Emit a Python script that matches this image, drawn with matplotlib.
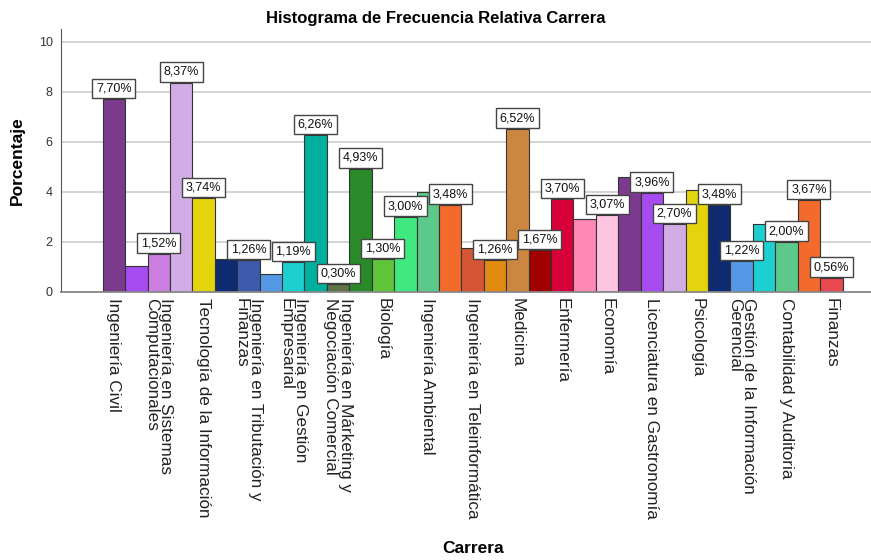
import matplotlib
matplotlib.use("Agg")
import matplotlib.pyplot as plt
import numpy as np

plt.rcParams['font.family'] = ['Liberation Sans', 'DejaVu Sans']

# porcentaje por carrera (33 barras, en el orden del grafico)
porcentajes = [7.70, 1.03, 1.52, 8.37, 3.74, 1.30, 1.26, 0.70, 1.19, 6.26, 0.30,
               4.93, 1.30, 3.00, 4.00, 3.48, 1.74, 1.26, 6.52, 1.67, 3.70, 2.91,
               3.07, 4.60, 3.96, 2.70, 4.07, 3.48, 1.22, 2.73, 2.00, 3.67, 0.56]

# etiquetas de datos que se ven en el original (las demas estan ocultas)
mostrar_etiqueta = [1, 0, 1, 1, 1, 0, 1, 0, 1, 1, 1,
                    1, 1, 1, 0, 1, 0, 1, 1, 1, 1, 0,
                    1, 0, 1, 1, 0, 1, 1, 0, 1, 1, 1]

# solo se muestra el nombre de una de cada dos barras
nombres_visibles = [
    "Ingeniería Civil",
    "Ingeniería en Sistemas\nComputacionales",
    "Tecnología de la Información",
    "Ingeniería en Tributación y\nFinanzas",
    "Ingeniería en Gestión\nEmpresarial",
    "Ingeniería en Márketing y\nNegociación Comercial",
    "Biología",
    "Ingeniería Ambiental",
    "Ingeniería en Teleinformática",
    "Medicina",
    "Enfermería",
    "Economía",
    "Licenciatura en Gastronomía",
    "Psicología",
    "Gestión de la Información\nGerencial",
    "Contabilidad y Auditoria",
    "Finanzas",
]

colores = ["#7B3A8E", "#A64BEF", "#CC7EE0", "#D2ACE4", "#E4D40E", "#0E2A70",
           "#3D5BAA", "#5599E6", "#1ECFCF", "#00B09E", "#5E7446", "#2A8A2A",
           "#60C43A", "#40E880", "#5CC88A", "#F26A2C", "#D45634", "#E08A12",
           "#CC8640", "#A00000", "#D80038", "#FF88B4", "#FFC4E0", "#7B3A8E",
           "#A64BEF", "#D2ACE4", "#E4D40E", "#0E2A70", "#5599E6", "#1ECFCF",
           "#5CC88A", "#F26A2C", "#E84850"]

fig = plt.figure(figsize=(8.71, 5.60), dpi=100)
ax = fig.add_axes([0.070, 0.4786, 0.930, 0.469])

x = np.arange(len(porcentajes))
barras = ax.bar(x, porcentajes, width=1.0, color=colores, edgecolor="#333333",
                linewidth=0.8, zorder=2)

# etiquetas con recuadro blanco sobre cada barra
for xi, val, ver in zip(x, porcentajes, mostrar_etiqueta):
    if not ver:
        continue
    texto = f"{val:.2f}%".replace(".", ",")
    ax.annotate(texto, (xi, val), xytext=(0, 3.5), textcoords="offset points",
                ha="center", va="bottom", fontsize=9, color="#111111", zorder=4,
                bbox=dict(boxstyle="square,pad=0.3", fc="white", ec="#444444", lw=1))

ax.set_xlim(-2.36, 33.77)
ax.set_ylim(0, 10.5)
ax.set_yticks([0, 2, 4, 6, 8, 10])
ax.yaxis.grid(True, color="#D0D0D0", linewidth=1.3, zorder=0)
ax.set_axisbelow(True)

ax.set_xticks(x[::2])
ax.set_xticklabels(nombres_visibles, rotation=-90, ha="center", va="top",
                   multialignment="left", fontsize=12.3, color="#222222",
                   linespacing=0.95)
ax.tick_params(axis="both", length=0)
ax.tick_params(axis="y", labelsize=9, colors="#333333", pad=6)
ax.tick_params(axis="x", pad=4)

for lado in ["top", "right"]:
    ax.spines[lado].set_visible(False)
ax.spines["left"].set_color("#555555")
ax.spines["bottom"].set_color("#888888")
ax.spines["bottom"].set_linewidth(1.3)

ax.set_ylabel("Porcentaje", fontsize=12.5, fontweight="bold")
ax.yaxis.set_label_coords(-0.044, 0.5)
ax.set_xlabel("Carrera", fontsize=12.5, fontweight="bold")
ax.xaxis.set_label_coords(0.509, -0.948)

fig.text(0.5, 1 - 18 / 560, "Histograma de Frecuencia Relativa Carrera",
         ha="center", va="center", fontsize=12, fontweight="bold")

fig.savefig("out.png", dpi=100)
